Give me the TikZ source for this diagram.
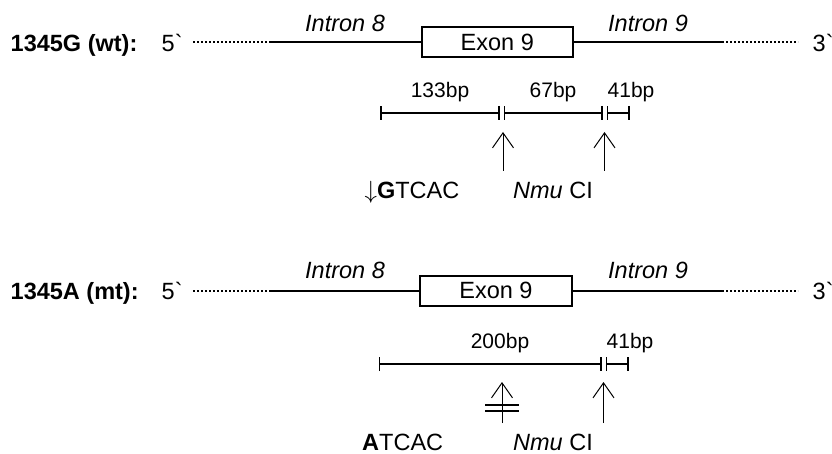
\documentclass[tikz,border=0pt]{standalone}
\usepackage{fontspec}
\setmainfont{Liberation Sans}[Ligatures=TeXOff]
\usetikzlibrary{arrows.meta,positioning}

\begin{document}
\begin{tikzpicture}[
  x=1pt, y=-1pt,
  txt/.style={inner sep=0pt, font=\fontsize{23.5}{28}\selectfont},
  bp/.style={inner sep=0pt, anchor=base, font=\fontsize{21}{25}\selectfont},
  gene/.style={line width=2pt},
  flank/.style={line width=2pt, dash pattern=on 2pt off 2pt},
  exon/.style={draw, line width=2pt, minimum width=151.5pt, minimum height=30pt, inner sep=0pt, font=\fontsize{23.5}{28}\selectfont},
  frag/.style={line width=2pt, {Bar[width=14pt,line width=1.8pt]}-{Bar[width=14pt,line width=1.8pt]}},
  cut/.style={line width=1pt, -{Straight Barb[length=15pt,width=21pt]}},
  nocut/.style={line width=1.8pt}
]
  \useasboundingbox (0,0) rectangle (832,454);

  % wild type, 1345G
  \node[txt, anchor=base west] (wt) at (10.5,51.5) {\bfseries 1345G (wt):};
  \node[txt, anchor=base west] (wt5) at (161.5,51.5) {5`};
  \node[txt, anchor=base west] (wt3) at (812.5,51.5) {3`};
  \node[exon] (ex1) at (497.3,42.5) {Exon 9};
  \node[txt, anchor=base] (in8a) at (345,31.5) {\itshape Intron 8};
  \node[txt, anchor=base] (in9a) at (648,31.5) {\itshape Intron 9};
  \coordinate (a1) at (193,42.5);
  \coordinate (b1) at (270,42.5);
  \coordinate (c1) at (722,42.5);
  \coordinate (d1) at (798,42.5);
  \draw[flank] (a1) -- (b1);
  \draw[gene] (b1) -- (ex1);
  \draw[gene] (ex1) -- (c1);
  \draw[flank] (c1) -- (d1);

  \coordinate (p1) at (380,113);
  \coordinate (p2) at (499.5,113);
  \coordinate (p3) at (503.5,113);
  \coordinate (p4) at (602.5,113);
  \coordinate (p5) at (606.5,113);
  \coordinate (p6) at (629.5,113);
  \draw[frag] (p1) -- (p2);
  \draw[frag] (p3) -- (p4);
  \draw[frag] (p5) -- (p6);
  \node[bp] (f133) at (440,97.5) {133bp};
  \node[bp] (f67) at (553,97.5) {67bp};
  \node[bp] (f41a) at (631,97.5) {41bp};

  \coordinate (s1) at (503,171);
  \coordinate (t1) at (503,132);
  \coordinate (s2) at (604.5,171);
  \coordinate (t2) at (604.5,132);
  \draw[cut] (s1) -- (t1);
  \draw[cut] (s2) -- (t2);
  \node[txt, anchor=base east] (seqg) at (459.5,199) {$\downarrow$\textbf{G}TCAC};
  \node[txt, anchor=base west] (nmua) at (513,199) {\itshape Nmu\upshape{} CI};

  % mutant, 1345A
  \node[txt, anchor=base west] (mt) at (10.5,299) {\bfseries 1345A (mt):};
  \node[txt, anchor=base west] (mt5) at (161.5,299) {5`};
  \node[txt, anchor=base west] (mt3) at (812.5,299) {3`};
  \node[exon] (ex2) at (496,290.5) {Exon 9};
  \node[txt, anchor=base] (in8b) at (345,279) {\itshape Intron 8};
  \node[txt, anchor=base] (in9b) at (648,279) {\itshape Intron 9};
  \coordinate (a2) at (193,290.5);
  \coordinate (b2) at (270,290.5);
  \coordinate (c2) at (722,290.5);
  \coordinate (d2) at (798,290.5);
  \draw[flank] (a2) -- (b2);
  \draw[gene] (b2) -- (ex2);
  \draw[gene] (ex2) -- (c2);
  \draw[flank] (c2) -- (d2);

  \coordinate (q1) at (378.5,364);
  \coordinate (q2) at (601.5,364);
  \coordinate (q3) at (605.5,364);
  \coordinate (q4) at (629,364);
  \draw[frag] (q1) -- (q2);
  \draw[frag] (q3) -- (q4);
  \node[bp] (f200) at (500,348.5) {200bp};
  \node[bp] (f41b) at (630,348.5) {41bp};

  \coordinate (s3) at (502,423);
  \coordinate (t3) at (502,382);
  \coordinate (s4) at (603.5,423);
  \coordinate (t4) at (603.5,382);
  \draw[cut] (s3) -- (t3);
  \draw[cut] (s4) -- (t4);
  \draw[nocut] (485,405) -- (519,405);
  \draw[nocut] (485,411) -- (519,411);
  \node[txt, anchor=base west] (seqa) at (362,450.5) {\textbf{A}TCAC};
  \node[txt, anchor=base west] (nmub) at (513,450.5) {\itshape Nmu\upshape{} CI};
\end{tikzpicture}
\end{document}
